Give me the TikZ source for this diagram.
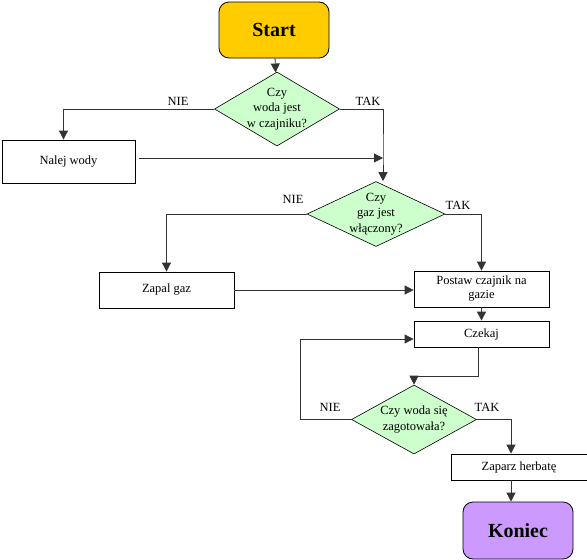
\documentclass[tikz,border=0pt]{standalone}
\usepackage{fontspec}
\setmainfont{Liberation Serif}
\usepackage{xcolor}
\usepackage{tikz}
\usetikzlibrary{arrows.meta,shapes.geometric}

\definecolor{startfill}{HTML}{FFCC00}
\definecolor{endfill}{HTML}{CC99FF}
\definecolor{askfill}{HTML}{CCFFCC}
\definecolor{linegray}{HTML}{333333}

\begin{document}
\begin{tikzpicture}[
		x=1pt, y=-1pt,
		flowbox/.style={
			rectangle,
			draw=black,
			line width=0.8pt,
			fill=white,
			inner sep=0pt,
			align=center,
			font=\fontsize{12.5}{14}\selectfont
		},
		termbox/.style={
			rectangle,
			rounded corners=10pt,
			draw=black,
			line width=0.8pt,
			minimum width=110pt,
			minimum height=56pt,
			font=\fontsize{20}{24}\selectfont\bfseries
		},
		decision/.style={
			diamond,
			draw=black,
			line width=0.6pt,
			fill=askfill,
			inner sep=-10pt,
			align=center,
			font=\fontsize{12.5}{15.5}\selectfont
		},
		answer/.style={
			inner sep=1pt,
			font=\fontsize{12.5}{14}\selectfont
		},
		arrow/.style={
			-{Triangle[length=9pt,width=9pt]},
			draw=linegray,
			line width=0.8pt
		}
		]
		
		\useasboundingbox (0,0) rectangle (587,560);
		
		\node[termbox, fill=startfill] (start) at (274,30) {Start};
		
		\node[decision, minimum width=125pt, minimum height=74pt] (q1) at (277,109)
		{Czy\\woda jest\\w czajniku?};
		
		\node[flowbox, minimum width=133pt, minimum height=43pt] (nalej) at (68.5,161.5) {Nalej wody};
		\coordinate (m1) at (383,158);
		
		\node[decision, minimum width=138pt, minimum height=65pt] (q2) at (376,214)
		{Czy\\gaz jest\\włączony?};
		
		\node[flowbox, minimum width=135pt, minimum height=36pt] (zapal) at (166.5,290) {Zapal gaz};
		\node[flowbox, minimum width=135pt, minimum height=36pt] (postaw) at (481.5,289) {Postaw czajnik na\\gazie};
		\node[flowbox, minimum width=135pt, minimum height=26pt] (czekaj) at (481.5,334) {Czekaj};
		\coordinate (m2) at (478,376);
		
		\node[decision, minimum width=125pt, minimum height=69pt] (q3) at (414,419.5)
		{Czy woda się\\zagotowała?};
		\coordinate (m3) at (300,339);
		
		\node[flowbox, minimum width=136pt, minimum height=26pt] (zaparz) at (519,467) {Zaparz herbatę};
		\node[termbox, fill=endfill, minimum height=57pt] (koniec) at (518,530.5) {Koniec};
		
		% odpowiedzi
		\node[answer] (nie1) at (178,101) {NIE};
		\node[answer] (tak1) at (368,101) {TAK};
		\node[answer] (nie2) at (293,199) {NIE};
		\node[answer] (tak2) at (458,205) {TAK};
		\node[answer] (nie3) at (330,407) {NIE};
		\node[answer] (tak3) at (487,407) {TAK};
		
		\draw[arrow] (start) -- (q1);
		\draw[arrow] (q1.west) -| ([xshift=-5pt]nalej.north);
		\draw[arrow] (q1.east) -| (m1) -- (m1 |- q2.north);
		\draw[arrow, shorten <=4pt] (nalej.east |- m1) -- (m1);
		\draw[arrow] (q2.west) -| (zapal.north);
		\draw[arrow] (q2.east) -| (postaw.north);
		\draw[arrow] (zapal) -- (zapal -| postaw.west);
		\draw[arrow] (postaw) -- (czekaj);
		\draw[arrow] (czekaj.south -| m2) -- (m2) -| (q3.north);
		\draw[arrow] (q3.west) -| (m3) -- (m3 -| czekaj.west);
		\draw[arrow] (q3.east) -| ([xshift=-8pt]zaparz.north);
		\draw[arrow] ([xshift=-8pt]zaparz.south) -- ([xshift=-8pt]zaparz.south |- koniec.north);
		
	\end{tikzpicture}
\end{document}
